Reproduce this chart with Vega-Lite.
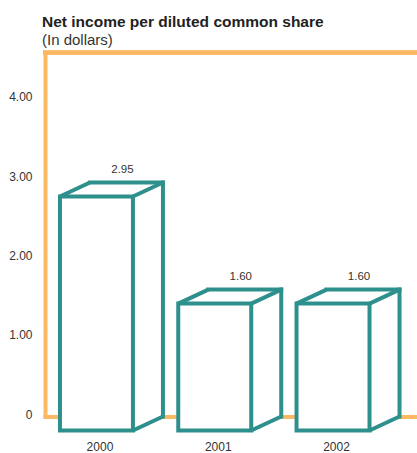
{
  "$schema": "https://vega.github.io/schema/vega-lite/v6.json",
  "autosize": "none",
  "padding": {"left": 45, "top": 52.5, "right": 0, "bottom": 36.5},
  "width": 372,
  "height": 364,
  "background": "white",
  "config": {
    "view": {"stroke": null},
    "font": "Liberation Sans",
    "axis": {"labelFont": "Liberation Sans", "labelColor": "#333", "labelFontSize": 12, "grid": false, "ticks": false, "domainColor": "#fdb863", "domainWidth": 4, "domainCap": "square", "title": null}
  },
  "title": {
    "text": "Net income per diluted common share",
    "subtitle": "(In dollars)",
    "anchor": "start",
    "frame": "group",
    "font": "Liberation Sans",
    "fontSize": 15.5,
    "fontWeight": "bold",
    "color": "#222",
    "subtitleFont": "Liberation Sans",
    "subtitleFontSize": 15,
    "subtitleColor": "#333",
    "subtitlePadding": 2,
    "offset": 2,
    "dx": -3
  },
  "data": {
    "values": [
      {"year": "2000", "value": 2.95},
      {"year": "2001", "value": 1.60},
      {"year": "2002", "value": 1.60}
    ]
  },
  "encoding": {
    "x": {
      "field": "year",
      "type": "ordinal",
      "scale": {"paddingInner": 0.383, "paddingOuter": 0.264, "align": 0.72},
      "axis": {"labelAngle": 0, "labelPadding": 34, "labelOffset": -26.5, "labelBaseline": "alphabetic"}
    }
  },
  "layer": [
    {
      "mark": {"type": "rule", "color": "#fdb863", "strokeWidth": 4, "strokeCap": "square"},
      "encoding": {
        "x": null,
        "y": {"datum": 4.59, "type": "quantitative", "scale": {"domain": [0, 4.59], "nice": false}, "axis": {"values": [0, 1, 2, 3, 4], "labelExpr": "datum.value == 0 ? '0' : format(datum.value, '.2f')", "labelPadding": 13, "labelOffset": -2.5}}
      }
    },
    {
      "mark": {"type": "bar", "fill": "white", "strokeWidth": 0, "y2Offset": 14},
      "encoding": {
        "y": {"field": "value", "type": "quantitative"},
        "y2": {"datum": 0}
      }
    },
    {
      "mark": {"type": "rule", "color": "#2e908c", "strokeWidth": 4, "strokeCap": "square"},
      "encoding": {
        "x": {"field": "year", "type": "ordinal", "bandPosition": 0},
        "x2": {"field": "year", "bandPosition": 1},
        "y": {"field": "value", "type": "quantitative"}
      }
    },
    {
      "mark": {"type": "rule", "color": "#2e908c", "strokeWidth": 4, "strokeCap": "square"},
      "encoding": {
        "x": {"field": "year", "type": "ordinal", "bandPosition": 1},
        "y": {"field": "value", "type": "quantitative"},
        "y2": {"datum": 0}
      }
    },
    {
      "mark": {"type": "rule", "color": "#2e908c", "strokeWidth": 4, "x2Offset": -30, "y2Offset": 14},
      "encoding": {
        "x": {"field": "year", "type": "ordinal", "bandPosition": 0},
        "x2": {"field": "year", "bandPosition": 0},
        "y": {"field": "value", "type": "quantitative"},
        "y2": {"field": "value"}
      }
    },
    {
      "mark": {"type": "rule", "color": "#2e908c", "strokeWidth": 4, "x2Offset": -30, "y2Offset": 14},
      "encoding": {
        "x": {"field": "year", "type": "ordinal", "bandPosition": 1},
        "x2": {"field": "year", "bandPosition": 1},
        "y": {"field": "value", "type": "quantitative"},
        "y2": {"field": "value"}
      }
    },
    {
      "mark": {"type": "rule", "color": "#2e908c", "strokeWidth": 4, "x2Offset": -30, "y2Offset": 14},
      "encoding": {
        "x": {"field": "year", "type": "ordinal", "bandPosition": 1},
        "x2": {"field": "year", "bandPosition": 1},
        "y": {"datum": 0, "type": "quantitative"},
        "y2": {"datum": 0}
      }
    },
    {
      "mark": {"type": "bar", "fill": "white", "stroke": "#2e908c", "strokeWidth": 4, "xOffset": -30, "x2Offset": -30, "yOffset": 14, "y2Offset": 14},
      "encoding": {
        "y": {"field": "value", "type": "quantitative"},
        "y2": {"datum": 0}
      }
    },
    {
      "mark": {"type": "text", "font": "Liberation Sans", "fontSize": 11.5, "color": "#333", "baseline": "alphabetic", "dx": -4, "dy": -10},
      "encoding": {
        "y": {"field": "value", "type": "quantitative"},
        "text": {"field": "value", "type": "quantitative", "format": ".2f"}
      }
    }
  ]
}
